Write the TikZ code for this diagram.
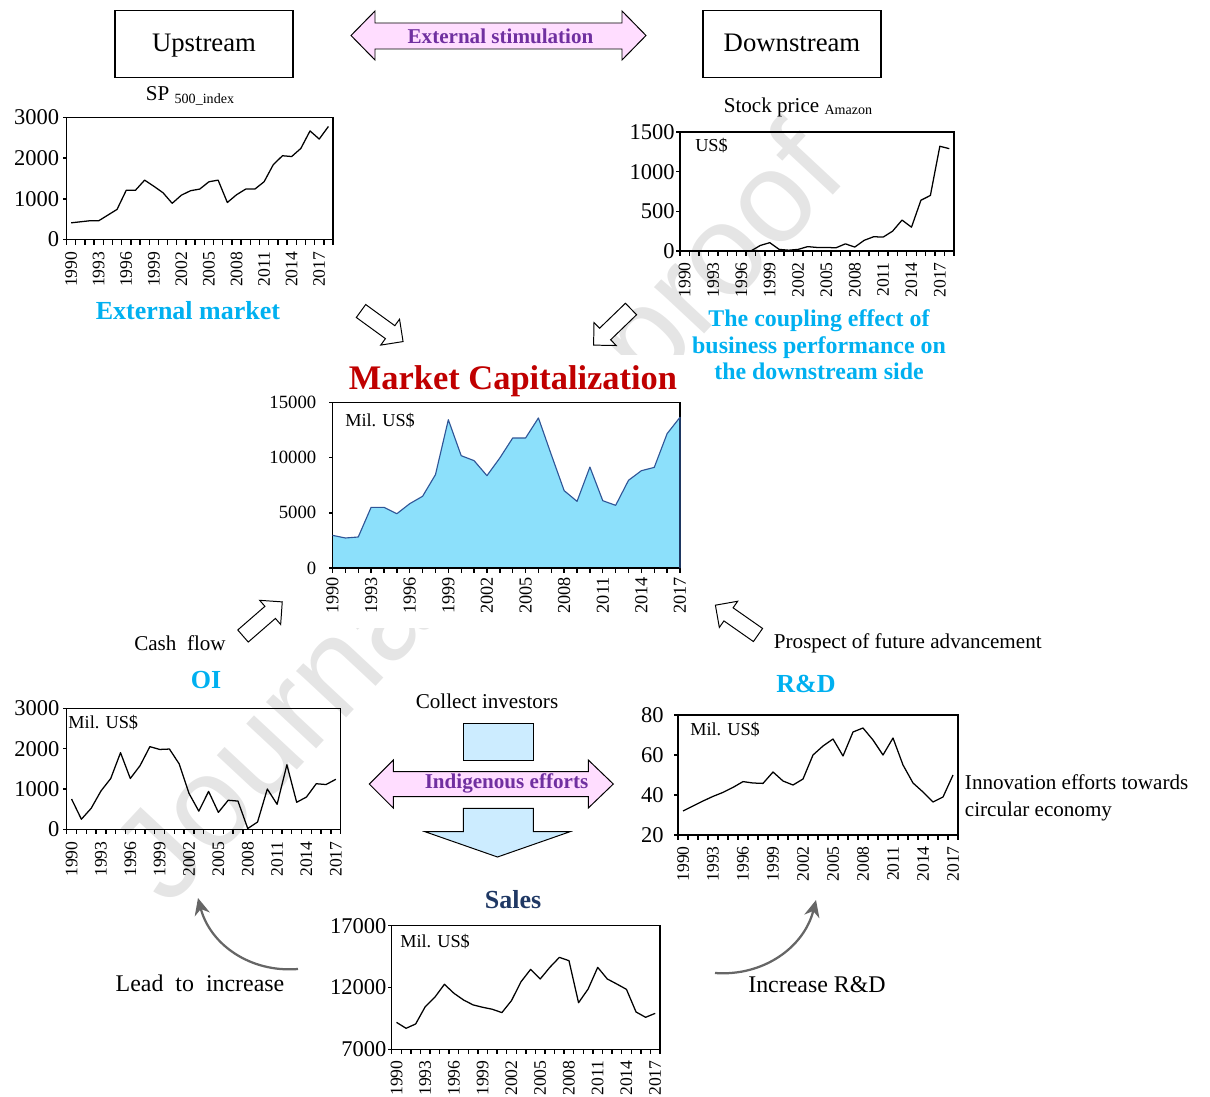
\documentclass[tikz,border=0pt]{standalone}
\usepackage{fontspec}
\setmainfont{Liberation Serif}
\newfontfamily\wmfont{Liberation Sans}
\usetikzlibrary{arrows.meta}

\definecolor{skyblue}{HTML}{00B0F0}
\definecolor{purplelab}{HTML}{7030A0}
\definecolor{redtitle}{HTML}{C00000}
\definecolor{navytitle}{HTML}{1F3864}
\definecolor{pinkfill}{HTML}{FFDDFF}
\definecolor{bluefill}{HTML}{CCECFF}
\definecolor{capfill}{HTML}{8CE0FB}
\definecolor{capline}{HTML}{2F5597}

\begin{document}
\begin{tikzpicture}[
  x=0.025cm, y=-0.025cm,
  box/.style={draw,line width=0.9pt,minimum width=4.45cm,minimum height=1.675cm,text depth=0.25ex,font=\fontsize{19}{22}\selectfont},
  ttl/.style={font=\bfseries\fontsize{18.5}{22}\selectfont,text=skyblue},
  lab/.style={font=\fontsize{15}{18}\selectfont},
  biglab/.style={font=\fontsize{17}{20}\selectfont},
  arrlab/.style={font=\bfseries\fontsize{15}{18}\selectfont,text=purplelab},
  unitlab/.style={font=\fontsize{13}{15}\selectfont,anchor=west,inner sep=0pt},
  ylab/.style={font=\fontsize{16}{18}\selectfont,anchor=east,inner sep=0pt},
  xlab/.style={font=\fontsize{12.5}{14}\selectfont,rotate=90,anchor=east,inner sep=0pt},
  frm/.style={line width=1pt},
  series/.style={line width=0.9pt,line join=round},
  fatarr/.style={draw,line width=0.7pt},
  hollow/.style={draw,fill=white,line width=0.7pt},
  bendarr/.style={draw=black!60,line width=1.6pt,-{Stealth[length=12pt,width=11pt]}},
  hollowarr/.pic={\path[hollow] (0,-8) -- (36,-8) -- (36,-16) -- (52,0) -- (36,16) -- (36,8) -- (0,8) -- cycle;}
]
\useasboundingbox (0,0) rectangle (1210,1097);

% watermark, hidden behind the central panel
\node[font=\wmfont\fontsize{92}{92}\selectfont,text=black!10,rotate=47] (wm) at (485,520) {Journal Pre-proof};
\fill[white] (262,355) rectangle (700,628);

% ============================================================
% TOP: upstream / downstream
% ============================================================

\node[box] (up) at (204,44) {Upstream};
\node[box] (down) at (792,44) {Downstream};

\path[fatarr,fill=pinkfill] (351,35.5) -- (375,11) -- (375,23) -- (622,23) -- (622,11) -- (646,35.5)
  -- (622,60) -- (622,49) -- (375,49) -- (375,60) -- cycle;
\node[arrlab] (stim) at (500.5,36) {External stimulation};

% SP 500 index
\node[lab] (sptitle) at (190,96) {SP {\fontsize{10}{12}\selectfont\raisebox{-0.35ex}{500\_index}}};
\begin{scope}[shift={(66.5,239.5)}]
  \draw[frm] (0,0) rectangle (266.5,-122);
  \foreach \k in {0,...,29} \draw[frm] ({\k*9.19},0) -- ++(0,5);
  \foreach \v in {0,1000,2000,3000} {
    \draw[frm] (0,{-\v*0.04067}) -- ++(-4,0);
    \node[ylab] at (-7,{-\v*0.04067}) {\v};
  }
  \foreach \yr [count=\k from 0] in {1990,1993,...,2017}
    \node[xlab] at ({(3*\k+0.5)*9.19},12) {\yr};
  \draw[series] (4.6,{-410*0.04067}) \foreach \v [count=\k from 1] in
    {435,460,460,600,740,1210,1210,1460,1310,1150,890,1090,1200,1240,1420,1460,910,1100,1240,1240,1420,1840,2060,2040,2240,2670,2470,2780}
    { -- ({(\k+0.5)*9.19},{-\v*0.04067}) };
\end{scope}
\node[ttl] (extmarket) at (188,311) {External market};

% Amazon stock price
\node[lab] (amtitle) at (798,107) {Stock price {\fontsize{10}{12}\selectfont\raisebox{-0.35ex}{Amazon}}};
\begin{scope}[shift={(680,251)}]
  \draw[frm] (0,0) rectangle (274,-119);
  \foreach \k in {0,...,29} \draw[frm] ({\k*9.448},0) -- ++(0,5);
  \foreach \v in {0,500,1000,1500} {
    \draw[frm] (0,{-\v*0.07933}) -- ++(-4,0);
    \node[ylab] at (-5,{-\v*0.07933}) {\v};
  }
  \foreach \yr [count=\k from 0] in {1990,1993,...,2017}
    \node[xlab] at ({(3*\k+0.5)*9.448},11) {\yr};
  \node[unitlab] at (15,-105) {US\$};
  \draw[series] ({7.5*9.448},0) \foreach \v [count=\k from 8] in
    {70,105,20,10,20,55,45,45,40,90,50,135,180,175,250,390,300,640,700,1320,1290}
    { -- ({(\k+0.5)*9.448},{-\v*0.07933}) };
\end{scope}
\node[ttl,align=center,font=\bfseries\fontsize{17}{18.85}\selectfont] (coupling) at (819,345)
  {The coupling effect of\\business performance on\\the downstream side};

\pic[rotate=-36] at (361,311) {hollowarr};
\pic[rotate=-136] at (631,309) {hollowarr};

% ============================================================
% CENTRE: market capitalization
% ============================================================

\node[font=\bfseries\fontsize{24.5}{28}\selectfont,text=redtitle] (mctitle) at (513,381) {Market Capitalization};
\begin{scope}[shift={(332.5,568)}]
  \fill[capfill] (0,0) \foreach \v [count=\k from 0] in
    {2.96,2.72,2.81,5.50,5.50,4.92,5.83,6.50,8.46,13.44,10.18,9.73,8.37,9.97,11.78,11.78,13.60,10.27,7.01,6.04,9.15,6.10,5.68,7.95,8.82,9.12,12.18,13.66}
    { -- ({\k*12.87},{-\v*11.033}) } -- (347.5,0) -- cycle;
  \draw[frm] (0,0) rectangle (347.5,-165.5);
  \foreach \k in {0,...,27} \draw[frm] ({\k*12.87},0) -- ++(0,5);
  \foreach \v/\t in {0/0,5/5000,10/10000,15/15000} {
    \draw[frm] (0,{-\v*11.033}) -- ++(-4,0);
    \node[ylab,font=\fontsize{13.3}{15}\selectfont] at (-16,{-\v*11.033}) {\t};
  }
  \foreach \yr [count=\k from 0] in {1990,1993,...,2017}
    \node[xlab,font=\fontsize{13}{15}\selectfont] at ({3*\k*12.87},9) {\yr};
  \node[unitlab] at (12.5,-147) {Mil. US\$};
  \draw[capline,line width=0.8pt,line join=round] (0,{-2.96*11.033}) \foreach \v [count=\k from 1] in
    {2.72,2.81,5.50,5.50,4.92,5.83,6.50,8.46,13.44,10.18,9.73,8.37,9.97,11.78,11.78,13.60,10.27,7.01,6.04,9.15,6.10,5.68,7.95,8.82,9.12,12.18,13.66}
    { -- ({\k*12.87},{-\v*11.033}) } -- (347.5,0);
\end{scope}

\pic[rotate=41] at (243,636) {hollowarr};
\pic[rotate=145] at (758,635) {hollowarr};
\node[lab] (cash) at (180,643) {Cash\ \ flow};
\node[lab,anchor=west] (prosp) at (769,643) {Prospect of future advancement};

% ============================================================
% BOTTOM LEFT: OI
% ============================================================

\node[ttl] (oititle) at (206,680) {OI};
\begin{scope}[shift={(66.7,829.3)}]
  \draw[frm] (0,0) rectangle (274,-121);
  \foreach \k in {0,...,28} \draw[frm] ({\k*9.786},0) -- ++(0,5);
  \foreach \v in {0,1000,2000,3000} {
    \draw[frm] (0,{-\v*0.04033}) -- ++(-4,0);
    \node[ylab] at (-7,{-\v*0.04033}) {\v};
  }
  \foreach \yr [count=\k from 0] in {1990,1993,...,2017}
    \node[xlab] at ({(3*\k+0.5)*9.786},12) {\yr};
  \node[unitlab] at (1.5,-107) {Mil. US\$};
  \draw[series] (4.893,{-750*0.04033}) \foreach \v [count=\k from 1] in
    {250,520,950,1260,1900,1260,1580,2050,1980,1990,1620,890,450,940,420,720,700,20,180,1000,620,1600,670,800,1130,1110,1240}
    { -- ({(\k+0.5)*9.786},{-\v*0.04033}) };
\end{scope}

% ============================================================
% BOTTOM RIGHT: R&D
% ============================================================

\node[ttl] (rdtitle) at (806,684) {R\&D};
\begin{scope}[shift={(678,835)}]
  \draw[frm] (0,0) rectangle (280,-120);
  \foreach \k in {0,...,28} \draw[frm] ({\k*10},0) -- ++(0,5);
  \foreach \v in {20,40,60,80} {
    \draw[frm] (0,{-(\v-20)*2}) -- ++(-4,0);
    \node[ylab] at (-14,{-(\v-20)*2}) {\v};
  }
  \foreach \yr [count=\k from 0] in {1990,1993,...,2017}
    \node[xlab] at ({(3*\k+0.5)*10},11) {\yr};
  \node[unitlab] at (12,-105) {Mil. US\$};
  \draw[series] (5,-24) \foreach \v [count=\k from 1] in
    {34.5,37,39.3,41.3,43.8,46.7,46,45.8,51.5,47,45,48,60,64.5,68,59.5,71.5,73.5,67.5,60,68.5,55,46,41.5,36.5,39,50}
    { -- ({(\k+0.5)*10},{-(\v-20)*2}) };
\end{scope}
\node[lab,anchor=west,align=left,font=\fontsize{15}{19.2}\selectfont] (innov) at (960,797.5)
  {Innovation efforts towards\\circular economy};

% ============================================================
% MIDDLE: indigenous efforts
% ============================================================

\node[lab] (collect) at (487,701) {Collect investors};
\path[fatarr,fill=bluefill] (463.3,723.3) rectangle (533.3,760);
\path[fatarr,fill=pinkfill] (369.3,784) -- (393.3,760) -- (393.3,771.7) -- (588.3,771.7) -- (588.3,760) -- (613.3,784)
  -- (588.3,808) -- (588.3,796.7) -- (393.3,796.7) -- (393.3,808) -- cycle;
\node[arrlab] (indig) at (506.5,783.5) {Indigenous efforts};
\path[fatarr,fill=bluefill] (463.3,808.3) -- (533.3,808.3) -- (533.3,831.7) -- (570,831.7) -- (497.5,857)
  -- (425,831.7) -- (463.3,831.7) -- cycle;

% ============================================================
% BOTTOM: sales
% ============================================================

\node[ttl,text=navytitle] (salestitle) at (513,900) {Sales};
\begin{scope}[shift={(391.7,1049.3)}]
  \draw[frm] (0,0) rectangle (268.3,-123.6);
  \foreach \k in {0,...,28} \draw[frm] ({\k*9.582},0) -- ++(0,5);
  \foreach \v/\t in {0/7000,5/12000,10/17000} {
    \draw[frm] (0,{-\v*12.36}) -- ++(-4,0);
    \node[ylab] at (-5,{-\v*12.36}) {\t};
  }
  \foreach \yr [count=\k from 0] in {1990,1993,...,2017}
    \node[xlab] at ({(3*\k+0.5)*9.582},11) {\yr};
  \node[unitlab] at (8.3,-107.5) {Mil. US\$};
  \draw[series] (4.791,{-(9.18-7)*12.36}) \foreach \v [count=\k from 1] in
    {8.70,9.05,10.45,11.21,12.26,11.53,10.99,10.59,10.40,10.24,9.97,10.94,12.47,13.47,12.69,13.63,14.44,14.17,10.77,11.88,13.63,12.69,12.28,11.85,10.02,9.59,9.91}
    { -- ({(\k+0.5)*9.582},{-(\v-7)*12.36}) };
\end{scope}

\node[biglab] (lead) at (200,983) {Lead\ \ to\ \ increase};
\node[biglab] (incr) at (817,985) {Increase R\&D};

\coordinate (leadfrom) at (298,969);
\coordinate (leadto) at (198,898);
\draw[bendarr] (leadfrom) to[bend left=40] (leadto);
\coordinate (incfrom) at (715,973);
\coordinate (incto) at (816,900);
\draw[bendarr] (incfrom) to[bend right=40] (incto);

\end{tikzpicture}
\end{document}
